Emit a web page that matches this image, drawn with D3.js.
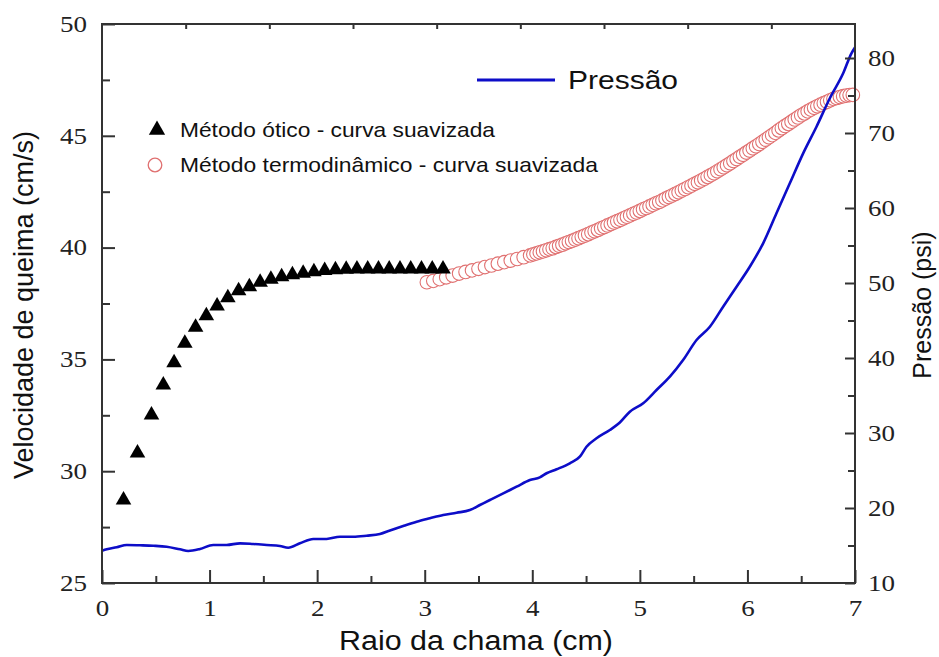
<!DOCTYPE html>
<html>
<head>
<meta charset="utf-8">
<script src="https://cdn.jsdelivr.net/npm/d3@7"></script>
<style>
  html, body { margin: 0; padding: 0; background: #fff; }
  svg { display: block; }
</style>
</head>
<body>
<svg id="chart" width="939" height="657"></svg>
<script>
// ---------------- DATA ----------------
const xTickValues = [0, 1, 2, 3, 4, 5, 6, 7];
const xMinorTicks = [0.5, 1.5, 2.5, 3.5, 4.5, 5.5, 6.5];
const leftTickValues = [25, 30, 35, 40, 45, 50];
const leftMinorTicks = [27.5, 32.5, 37.5, 42.5, 47.5];
const rightTickValues = [10, 20, 30, 40, 50, 60, 70, 80];
const rightMinorTicks = [15, 25, 35, 45, 55, 65, 75];

// Método ótico - curva suavizada (triangles)
const opticX = [0.2, 0.33, 0.46, 0.57, 0.67, 0.77, 0.87, 0.97, 1.07, 1.17, 1.27, 1.37, 1.47, 1.57, 1.67, 1.77, 1.87, 1.97, 2.07, 2.17, 2.27, 2.37, 2.47, 2.57, 2.67, 2.77, 2.87, 2.97, 3.07, 3.17];
const opticY = [28.71, 30.81, 32.51, 33.86, 34.85, 35.72, 36.44, 36.95, 37.39, 37.76, 38.07, 38.25, 38.45, 38.58, 38.70, 38.79, 38.85, 38.92, 38.98, 39.01, 39.03, 39.04, 39.04, 39.04, 39.04, 39.04, 39.04, 39.04, 39.04, 39.04];

// Método termodinâmico - curva suavizada (open circles)
const thermoX = [3.02, 3.08, 3.14, 3.20, 3.26, 3.32, 3.38, 3.44, 3.50, 3.56, 3.62, 3.68, 3.74, 3.80, 3.86, 3.92, 3.98,
  4.01, 4.04, 4.07, 4.10, 4.13, 4.16, 4.19, 4.22, 4.25, 4.28, 4.31, 4.34, 4.37, 4.40, 4.43, 4.46, 4.49, 4.52, 4.55, 4.58,
  4.61, 4.64, 4.67, 4.70, 4.73, 4.76, 4.79, 4.82, 4.85, 4.88, 4.91, 4.94, 4.97, 5.00, 5.03, 5.06, 5.09, 5.12, 5.15, 5.18,
  5.21, 5.24, 5.27, 5.30, 5.33, 5.36, 5.39, 5.42, 5.45, 5.48, 5.51, 5.54, 5.57, 5.60, 5.63, 5.66, 5.69, 5.72, 5.75, 5.78,
  5.81, 5.84, 5.87, 5.90, 5.93, 5.96, 5.99, 6.02, 6.05, 6.08, 6.11, 6.14, 6.17, 6.20, 6.23, 6.26, 6.29, 6.32, 6.35, 6.38,
  6.41, 6.44, 6.47, 6.50, 6.53, 6.56, 6.59, 6.62, 6.65, 6.68, 6.71, 6.74, 6.77, 6.80, 6.83, 6.86, 6.89, 6.92, 6.95, 6.98];
const thermoY = [38.45, 38.51, 38.59, 38.67, 38.75, 38.84, 38.91, 38.98, 39.05, 39.13, 39.20, 39.28, 39.35, 39.42, 39.49, 39.57, 39.65,
  39.70, 39.74, 39.79, 39.83, 39.88, 39.93, 39.97, 40.03, 40.08, 40.13, 40.19, 40.25, 40.30, 40.36, 40.42, 40.48, 40.54, 40.60, 40.67, 40.73,
  40.79, 40.86, 40.92, 40.99, 41.05, 41.12, 41.18, 41.24, 41.31, 41.38, 41.44, 41.51, 41.57, 41.64, 41.71, 41.77, 41.84, 41.91, 41.98, 42.04,
  42.11, 42.19, 42.26, 42.33, 42.40, 42.47, 42.55, 42.62, 42.70, 42.77, 42.85, 42.92, 43.00, 43.08, 43.16, 43.24, 43.32, 43.41, 43.50, 43.59,
  43.68, 43.77, 43.87, 43.96, 44.06, 44.15, 44.25, 44.34, 44.44, 44.53, 44.63, 44.73, 44.83, 44.93, 45.03, 45.13, 45.24, 45.34, 45.44, 45.53,
  45.63, 45.73, 45.82, 45.92, 46.00, 46.09, 46.17, 46.25, 46.32, 46.39, 46.46, 46.52, 46.59, 46.65, 46.69, 46.73, 46.77, 46.80, 46.82, 46.83];

// Pressão (psi), right axis
const pressX = [0, 0.044, 0.137, 0.23, 0.353, 0.477, 0.601, 0.725, 0.802, 0.911, 1.034, 1.159, 1.283, 1.406, 1.531, 1.654, 1.731, 1.84, 1.964, 2.088,
  2.212, 2.335, 2.46, 2.584, 2.677, 2.80, 2.925, 3.048, 3.172, 3.296, 3.42, 3.513, 3.606, 3.73, 3.854, 3.978, 4.07, 4.133, 4.226, 4.349,
  4.442, 4.504, 4.597, 4.721, 4.814, 4.907, 5.031, 5.155, 5.279, 5.402, 5.527, 5.651, 5.774, 5.899, 6.022, 6.146, 6.27, 6.394, 6.518, 6.642,
  6.766, 6.89, 6.967, 7.0];
const pressY = [14.31, 14.49, 14.76, 15.07, 15.03, 14.97, 14.84, 14.49, 14.27, 14.53, 15.07, 15.07, 15.29, 15.2, 15.07, 14.93, 14.71, 15.29, 15.87, 15.87,
  16.17, 16.17, 16.31, 16.53, 17.0, 17.6, 18.17, 18.63, 19.07, 19.37, 19.73, 20.4, 21.07, 21.96, 22.84, 23.73, 24.09, 24.63, 25.16, 25.96,
  26.84, 28.17, 29.29, 30.4, 31.4, 32.84, 33.96, 35.73, 37.51, 39.73, 42.4, 44.17, 46.84, 49.51, 52.17, 55.29, 59.29, 63.29, 67.29, 70.84,
  74.63, 77.96, 80.63, 81.4];

const legendLabels = ["Método ótico - curva suavizada", "Método termodinâmico - curva suavizada", "Pressão"];
const xTitle = "Raio da chama (cm)";
const leftTitle = "Velocidade de queima (cm/s)";
const rightTitle = "Pressão (psi)";

// ---------------- LAYOUT ----------------
const L = 102, R = 855, T = 24, B = 583;
const svg = d3.select("#chart");
const serif = "'Liberation Serif', 'Times New Roman', serif";
const sans = "'Liberation Sans', Arial, sans-serif";
const axisColor = "#333";
const blue = "#0d0dc8";
const red = "#e07070";

const x = d3.scaleLinear().domain([0, 7]).range([L, R]);
const yL = d3.scaleLinear().domain([25, 50]).range([B, T]);
const yR = d3.scaleLinear().domain([10, 10 + (B - T) / 7.5]).range([B, T]);
const xTop = d3.scaleLinear().domain([0, 9]).range([L, R]);

// ---------------- MARKS ----------------
svg.append("g").selectAll("circle")
  .data(thermoX.map((v, i) => [v, thermoY[i]]))
  .join("circle")
  .attr("cx", d => x(d[0]))
  .attr("cy", d => yL(d[1]))
  .attr("r", 6.8)
  .attr("fill", "#fff")
  .attr("stroke", red)
  .attr("stroke-width", 1.1);

const pressData = pressX.map((v, i) => [v, pressY[i]]);
svg.append("path")
  .datum(pressData)
  .attr("fill", "none")
  .attr("stroke", blue)
  .attr("stroke-width", 2.6)
  .attr("stroke-linejoin", "round")
  .attr("d", d3.line().curve(d3.curveMonotoneX).x(d => x(d[0])).y(d => yR(d[1])));

const tri = d3.symbol().type(d3.symbolTriangle).size(105);
svg.append("g").selectAll("path")
  .data(opticX.map((v, i) => [v, opticY[i]]))
  .join("path")
  .attr("d", tri)
  .attr("transform", d => `translate(${x(d[0])},${yL(d[1])})`)
  .attr("fill", "#000");

// ---------------- AXES ----------------
function styleAxis(g) {
  g.select(".domain").remove();
  g.selectAll("line").attr("stroke", axisColor).attr("stroke-width", 2);
  g.selectAll("text")
    .attr("fill", "#222")
    .attr("font-family", serif)
    .attr("font-size", 23)
    .attr("textLength", d => String(d).length * 13.5)
    .attr("lengthAdjust", "spacingAndGlyphs");
}

svg.append("g").attr("transform", `translate(0,${B})`)
  .call(d3.axisBottom(x).tickValues(xTickValues).tickSize(-13).tickPadding(17).tickFormat(d3.format("d")))
  .call(styleAxis);
svg.append("g").attr("transform", `translate(0,${B})`)
  .call(d3.axisBottom(x).tickValues(xMinorTicks).tickSize(-7).tickFormat(""))
  .call(g => { g.select(".domain").remove(); g.selectAll("line").attr("stroke", axisColor).attr("stroke-width", 2); g.selectAll("text").remove(); });

svg.append("g").attr("transform", `translate(${L},0)`)
  .call(d3.axisLeft(yL).tickValues(leftTickValues).tickSize(-13).tickPadding(15).tickFormat(d3.format("d")))
  .call(styleAxis);
svg.append("g").attr("transform", `translate(${L},0)`)
  .call(d3.axisLeft(yL).tickValues(leftMinorTicks).tickSize(-8).tickFormat(""))
  .call(g => { g.select(".domain").remove(); g.selectAll("line").attr("stroke", axisColor).attr("stroke-width", 2); g.selectAll("text").remove(); });

svg.append("g").attr("transform", `translate(${R},0)`)
  .call(d3.axisRight(yR).tickValues(rightTickValues).tickSize(-10).tickPadding(13).tickFormat(d3.format("d")))
  .call(styleAxis);
svg.append("g").attr("transform", `translate(${R},0)`)
  .call(d3.axisRight(yR).tickValues(rightMinorTicks).tickSize(-7).tickFormat(""))
  .call(g => { g.select(".domain").remove(); g.selectAll("line").attr("stroke", axisColor).attr("stroke-width", 2); g.selectAll("text").remove(); });

svg.append("g").attr("transform", `translate(0,${T})`)
  .call(d3.axisTop(xTop).tickValues(d3.range(1, 9)).tickSize(-5).tickFormat(""))
  .call(g => { g.select(".domain").remove(); g.selectAll("line").attr("stroke", axisColor).attr("stroke-width", 2); g.selectAll("text").remove(); });

svg.append("rect")
  .attr("x", L).attr("y", T).attr("width", R - L).attr("height", B - T)
  .attr("fill", "none").attr("stroke", axisColor).attr("stroke-width", 2);

// ---------------- TITLES ----------------
svg.append("text")
  .attr("x", 476).attr("y", 650)
  .attr("text-anchor", "middle")
  .attr("font-family", sans).attr("font-size", 27)
  .attr("textLength", 274).attr("lengthAdjust", "spacingAndGlyphs")
  .attr("fill", "#111")
  .text(xTitle);

svg.append("text")
  .attr("transform", "translate(33,305) rotate(-90)")
  .attr("text-anchor", "middle")
  .attr("font-family", sans).attr("font-size", 27)
  .attr("fill", "#111")
  .text(leftTitle);

svg.append("text")
  .attr("transform", "translate(931,305) rotate(-90)")
  .attr("text-anchor", "middle")
  .attr("font-family", sans).attr("font-size", 25)
  .attr("fill", "#111")
  .text(rightTitle);

// ---------------- LEGEND ----------------
svg.append("path")
  .attr("d", d3.symbol().type(d3.symbolTriangle).size(115))
  .attr("transform", "translate(157,130)")
  .attr("fill", "#000");
svg.append("text")
  .attr("x", 180).attr("y", 137)
  .attr("font-family", sans).attr("font-size", 21)
  .attr("textLength", 315).attr("lengthAdjust", "spacingAndGlyphs")
  .attr("fill", "#111")
  .text(legendLabels[0]);

svg.append("circle")
  .attr("cx", 155).attr("cy", 165).attr("r", 6.8)
  .attr("fill", "#fff").attr("stroke", red).attr("stroke-width", 1.3);
svg.append("text")
  .attr("x", 180).attr("y", 172)
  .attr("font-family", sans).attr("font-size", 21)
  .attr("textLength", 418).attr("lengthAdjust", "spacingAndGlyphs")
  .attr("fill", "#111")
  .text(legendLabels[1]);

svg.append("line")
  .attr("x1", 477).attr("x2", 555).attr("y1", 80).attr("y2", 80)
  .attr("stroke", blue).attr("stroke-width", 3);
svg.append("text")
  .attr("x", 568).attr("y", 89)
  .attr("font-family", sans).attr("font-size", 25)
  .attr("textLength", 110).attr("lengthAdjust", "spacingAndGlyphs")
  .attr("fill", "#111")
  .text(legendLabels[2]);
</script>
</body>
</html>
